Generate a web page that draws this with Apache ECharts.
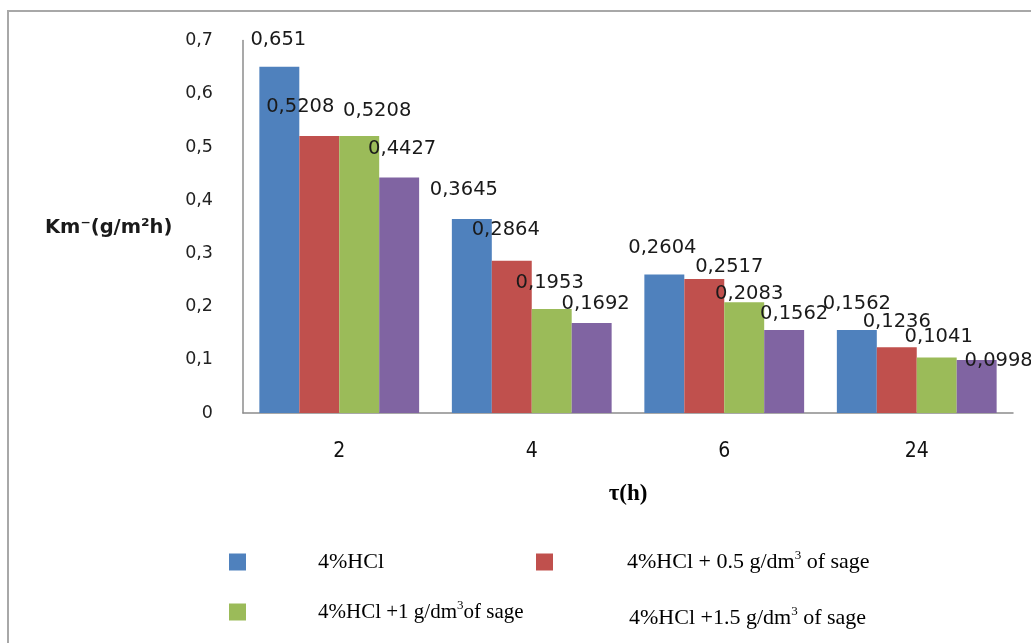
<!DOCTYPE html>
<html>
<head>
<meta charset="utf-8">
<script src="https://cdn.jsdelivr.net/npm/echarts@6/dist/echarts.min.js"></script>
<style>
html,body{margin:0;padding:0;background:#fff;}
#chart{width:1031px;height:643px;}
</style>
</head>
<body>
<div id="chart"></div>
<script>
// ---- data ----
var categories = ['2', '4', '6', '24'];
var seriesNames = [
  '4%HCl',
  '4%HCl + 0.5 g/dm3 of sage',
  '4%HCl +1 g/dm3of sage',
  '4%HCl +1.5 g/dm3 of sage'
];
var hcl = [0.651, 0.3645, 0.2604, 0.1562];
var sage05 = [0.5208, 0.2864, 0.2517, 0.1236];
var sage1 = [0.5208, 0.1953, 0.2083, 0.1041];
var sage15 = [0.4427, 0.1692, 0.1562, 0.0998];
var yTicks = ['0', '0,1', '0,2', '0,3', '0,4', '0,5', '0,6', '0,7'];
var legendLabels = [
  '4%HCl',
  '4%HCl + 0.5 g/dm{sup|3} of sage',
  '4%HCl +1 g/dm{sup|3}of sage',
  '4%HCl +1.5 g/dm{sup|3} of sage'
];

// ---- style (label nudges, not data) ----
var colors = ['#4F81BD', '#C0504D', '#9BBB59', '#8064A2'];
var labelNudge = [
  [[-1, -4], [-8, -6], [-2, -4], [0, -3]],
  [[-19, -6], [-6, -8], [25, 11], [0, -2]],
  [[18, -2], [-2, -3], [5, 15], [2, 2]],
  [[3, -6], [4, 4], [10, 7], [22, 24]]
];
var seriesData = [hcl, sage05, sage1, sage15];

var chart = echarts.init(document.getElementById('chart'), null, {renderer: 'canvas'});

function fmt(v) { return String(v).replace('.', ','); }

var series = seriesData.map(function (arr, si) {
  return {
    name: seriesNames[si],
    type: 'bar',
    barGap: '0%',
    barCategoryGap: '17%',
    itemStyle: {color: colors[si]},
    data: arr.map(function (v, ci) {
      return {
        value: v,
        label: {offset: labelNudge[si][ci]}
      };
    }),
    label: {
      show: true,
      position: 'top',
      distance: 13,
      fontFamily: 'DejaVu Sans',
      fontSize: 19.5,
      color: '#1a1a1a',
      formatter: function (p) { return fmt(p.value); }
    }
  };
});

var legendPos = [
  {left: 229, top: 549, pad: 67},
  {left: 536, top: 549, pad: 69},
  {left: 229, top: 599, pad: 67},
  {left: 536, top: 605, pad: 71}
];
var legends = legendPos.map(function (lp, i) {
  return {
    left: lp.left,
    top: lp.top,
    orient: 'horizontal',
    selectedMode: false,
    icon: 'rect',
    itemWidth: 17,
    itemHeight: 17,
    padding: 0,
    data: [i === 3 ? {name: seriesNames[i], itemStyle: {opacity: 0}} : {name: seriesNames[i]}],
    formatter: function () { return legendLabels[i]; },
    textStyle: {
      fontFamily: 'Liberation Serif',
      fontSize: i === 2 ? 21 : 22,
      color: '#000',
      lineHeight: 26,
      padding: [0, 0, 0, lp.pad],
      rich: {
        sup: {fontFamily: 'Liberation Serif', fontSize: 13, verticalAlign: 'top', lineHeight: 13, color: '#000'}
      }
    }
  };
});

var option = {
  animation: false,
  backgroundColor: '#fff',
  grid: {left: 243, top: 40.6, right: 18, bottom: 230, containLabel: false},
  legend: legends,
  xAxis: {
    type: 'category',
    data: categories,
    axisLine: {show: true, lineStyle: {color: '#8c8c8c', width: 1.5}},
    axisTick: {show: false},
    axisLabel: {
      margin: 28,
      fontFamily: "'DejaVu Sans Condensed', 'Liberation Sans Narrow', sans-serif",
      fontSize: 21,
      color: '#111'
    },
    name: 'τ(h)',
    nameLocation: 'middle',
    nameGap: 70,
    nameTextStyle: {fontFamily: 'Liberation Serif', fontWeight: 'bold', fontSize: 23, color: '#000'}
  },
  yAxis: {
    type: 'value',
    min: 0,
    max: 0.7,
    interval: 0.1,
    axisLine: {show: true, lineStyle: {color: '#8c8c8c', width: 1.5}},
    axisTick: {show: false},
    splitLine: {show: false},
    axisLabel: {
      margin: 30,
      fontFamily: 'DejaVu Sans',
      fontSize: 17.5,
      color: '#222',
      formatter: function (v) { return yTicks[Math.round(v * 10)]; }
    }
  },
  graphic: [
    {
      type: 'rect',
      shape: {x: 8, y: 11, width: 1100, height: 800},
      style: {fill: 'none', stroke: '#a8a8a8', lineWidth: 2},
      silent: true,
      z: -1
    },
    {
      type: 'text',
      left: 45,
      top: 218,
      style: {
        text: 'Km⁻(g/m²h)',
        fontFamily: 'DejaVu Sans',
        fontWeight: 'bold',
        fontSize: 19.5,
        fill: '#1a1a1a'
      }
    }
  ],
  series: series
};

chart.setOption(option);
</script>
</body>
</html>
